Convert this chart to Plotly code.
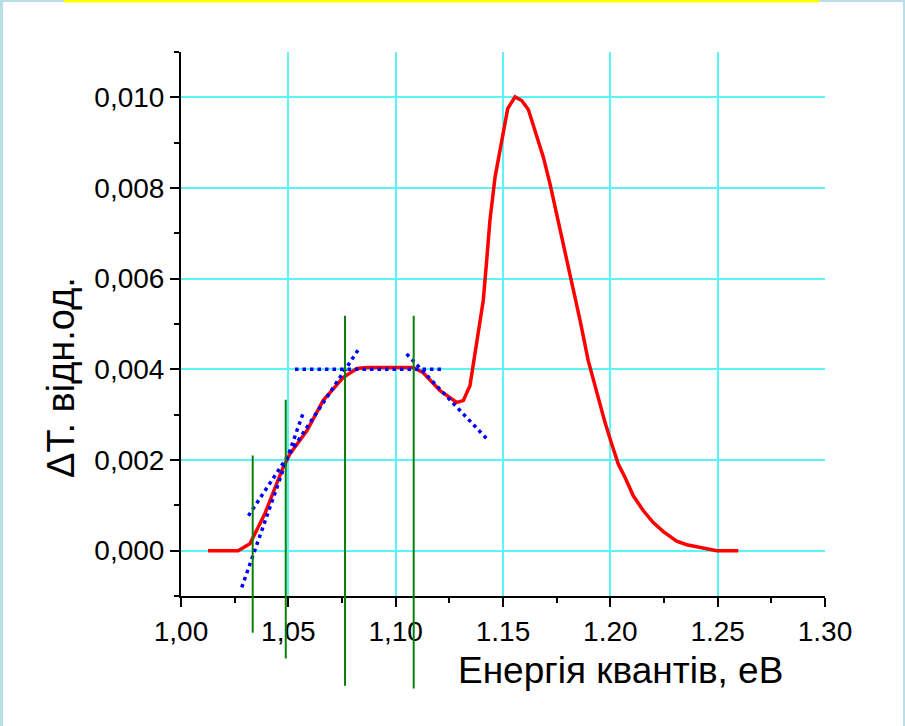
import plotly.graph_objects as go

# ---- data ----
energy = [1.0126, 1.0266, 1.0321, 1.0391, 1.0475, 1.0508, 1.0587, 1.0662, 1.0755, 1.0820,
          1.0866, 1.1081, 1.1127, 1.1207, 1.1284, 1.1315, 1.1346, 1.1370, 1.1393, 1.1408,
          1.1424, 1.1439, 1.1463, 1.1494, 1.1522, 1.1556, 1.1587, 1.1618, 1.1657, 1.1688,
          1.1719, 1.1750, 1.1781, 1.1820, 1.1859, 1.1897, 1.1937, 1.1975, 1.2006, 1.2037,
          1.2068, 1.2107, 1.2154, 1.2200, 1.2247, 1.2309, 1.2356, 1.2433, 1.2496, 1.2596]
delta_t = [0.0, 0.0, 0.00015, 0.00082, 0.00183, 0.00214, 0.00265, 0.00331, 0.00382, 0.00402,
           0.00404, 0.00404, 0.00393, 0.00353, 0.00327, 0.00331, 0.00364, 0.00435, 0.00508, 0.00552,
           0.00640, 0.00728, 0.00824, 0.00905, 0.00975, 0.01001, 0.00993, 0.00973, 0.00912, 0.00868,
           0.00809, 0.00743, 0.00677, 0.00596, 0.00508, 0.00419, 0.00346, 0.00283, 0.00236, 0.00191,
           0.00162, 0.00121, 0.00088, 0.00062, 0.00042, 0.00021, 0.00013, 0.00005, 0.0, 0.0]

tangent_x = [[1.0283, 1.0570], [1.0314, 1.0834], [1.0531, 1.1214], [1.1051, 1.1432]]
tangent_y = [[-0.00081, 0.00305], [0.00077, 0.00449], [0.0040, 0.0040], [0.00434, 0.00243]]

marker_x = [1.0334, 1.0488, 1.0764, 1.1084]
marker_top = [0.00210, 0.00333, 0.00518, 0.00518]
marker_bottom = [-0.00181, -0.00238, -0.00298, -0.00304]

x_tickvals = [1.00, 1.05, 1.10, 1.15, 1.20, 1.25, 1.30]
x_ticktext = ["1,00", "1,05", "1,10", "1.15", "1.20", "1.25", "1.30"]
y_tickvals = [0.000, 0.002, 0.004, 0.006, 0.008, 0.010]
y_ticktext = ["0,000", "0,002", "0,004", "0,006", "0,008", "0,010"]

x_range = [1.00, 1.30]
y_range = [-0.001, 0.011]

# ---- layout geometry ----
W, H = 905, 726
ML, MR, MT, MB = 181, 80, 52, 26
PW, PH = W - ML - MR, H - MT - MB
axis_bottom_px = 596
d0 = (H - MB - axis_bottom_px) / PH
y2_min = y_range[0] - (y_range[1] - y_range[0]) * d0 / (1 - d0)

def px_x(px):
    return (px - ML) / PW

def px_y(py):
    return (H - MB - py) / PH

FONT = "Liberation Sans, Arial, sans-serif"

fig = go.Figure()

fig.add_trace(go.Scatter(x=energy, y=delta_t, mode="lines",
                         line=dict(color="#ff0000", width=3.5), showlegend=False,
                         xaxis="x", yaxis="y"))

for tx, ty in zip(tangent_x, tangent_y):
    fig.add_trace(go.Scatter(x=tx, y=ty, mode="lines",
                             line=dict(color="#0000ff", width=3.5, dash="3.5px,4px"),
                             showlegend=False, xaxis="x", yaxis="y"))

gx, gy = [], []
for x, t, b in zip(marker_x, marker_top, marker_bottom):
    gx += [x, x, None]
    gy += [t, b, None]
fig.add_trace(go.Scatter(x=gx, y=gy, mode="lines", line=dict(color="#0a800a", width=2),
                         showlegend=False, xaxis="x2", yaxis="y2"))

grid_color = "#5cf5f5"
fig.update_layout(
    width=W, height=H,
    margin=dict(l=ML, r=MR, t=MT, b=MB),
    paper_bgcolor="white", plot_bgcolor="rgba(0,0,0,0)",
    xaxis=dict(range=x_range, domain=[0, 1], anchor="y",
               tickvals=x_tickvals, ticktext=x_ticktext,
               ticks="outside", ticklen=9, tickwidth=2, tickcolor="black",
               showline=True, linecolor="black", linewidth=2,
               showgrid=True, gridcolor=grid_color, gridwidth=1.5, zeroline=False,
               tickfont=dict(family=FONT, size=28, color="black"),
               minor=dict(dtick=0.025, tick0=1.0, ticks="outside", ticklen=5, tickwidth=2,
                          tickcolor="black", showgrid=False)),
    yaxis=dict(range=y_range, domain=[d0, 1], anchor="x",
               tickvals=y_tickvals, ticktext=y_ticktext,
               ticks="outside", ticklen=9, tickwidth=2, tickcolor="black",
               showline=True, linecolor="black", linewidth=2,
               showgrid=True, gridcolor=grid_color, gridwidth=1.5, zeroline=False,
               tickfont=dict(family=FONT, size=28, color="black"),
               minor=dict(dtick=0.001, tick0=0, ticks="outside", ticklen=5, tickwidth=2,
                          tickcolor="black", showgrid=False)),
    xaxis2=dict(range=x_range, overlaying="x", anchor="y2", visible=False),
    yaxis2=dict(range=[y2_min, y_range[1]], domain=[0, 1], anchor="x2", visible=False),
    annotations=[
        dict(text="Енергія квантів, еВ", xref="paper", yref="paper",
             x=px_x(620), y=px_y(670), xanchor="center", yanchor="middle",
             showarrow=False, font=dict(family=FONT, size=37, color="black")),
        dict(text="ΔT. відн.од.", xref="paper", yref="paper",
             x=px_x(61), y=px_y(378), xanchor="center", yanchor="middle", textangle=-90,
             showarrow=False, font=dict(family=FONT, size=38, color="black")),
    ],
    shapes=[
        dict(type="rect", xref="paper", yref="paper", x0=px_x(0), x1=px_x(3), y0=px_y(0), y1=px_y(H),
             fillcolor="#b8e0e4", line=dict(width=0), layer="above"),
        dict(type="rect", xref="paper", yref="paper", x0=px_x(W - 2), x1=px_x(W), y0=px_y(0), y1=px_y(H),
             fillcolor="#b8e0e4", line=dict(width=0), layer="above"),
        dict(type="rect", xref="paper", yref="paper", x0=px_x(0), x1=px_x(W), y0=px_y(0), y1=px_y(2),
             fillcolor="#b8e0e4", line=dict(width=0), layer="above"),
        dict(type="rect", xref="paper", yref="paper", x0=px_x(64), x1=px_x(819), y0=px_y(0), y1=px_y(2.5),
             fillcolor="#ffff00", line=dict(width=0), layer="above"),
    ],
)

fig.write_html("out.html")
